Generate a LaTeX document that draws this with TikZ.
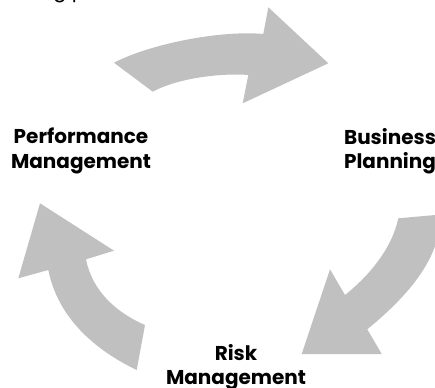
\documentclass[tikz,border=0pt]{standalone}
\usepackage{fontspec}
\setmainfont{Poppins}
\definecolor{arrowgray}{RGB}{192,192,192}
\begin{document}
\begin{tikzpicture}[x=1pt,y=-1pt,
  cyclearrow/.style={fill=arrowgray,draw=none},
  label/.style={font=\fontsize{20}{24.5}\selectfont\bfseries,align=center,inner sep=0pt,text=black}]
\useasboundingbox (0,0) rectangle (435,387);
% partial title text cut by top edge
\node[font=\fontsize{20}{24}\selectfont,anchor=base west,inner sep=0pt] (title) at (40,-2) {ng p};
% top arrow
\path[cyclearrow] (114,62.7) .. controls (150,44) and (220,30) .. (263.3,34)
  -- (268.3,7.3) -- (328.3,63.3) -- (242.7,103.3) -- (248.3,75)
  .. controls (225,73) and (180,77) .. (152.7,91.7) -- cycle;
% right arrow
\path[cyclearrow] (398.3,218.3) -- (441,214.5) .. controls (440,255) and (415,290) .. (367.3,329.3)
  -- (381.7,354) -- (301.7,354) -- (330,269.3) -- (345,295)
  .. controls (370,275) and (392,248) .. (398.3,218.3) -- cycle;
% left arrow
\path[cyclearrow] (40,203.3) -- (114,250.7) -- (86,259.3)
  .. controls (92,290) and (115,312) .. (145,325) -- (136.7,370)
  .. controls (95,350) and (58,318) .. (48.3,270) -- (18.3,278.3) -- cycle;
% labels
\node[label] (perf) at (81,151) {Performance\\Management};
\node[label] (bus) at (390,151) {Business\\Planning};
\node[label] (risk) at (236,367) {Risk\\Management};
\end{tikzpicture}
\end{document}
